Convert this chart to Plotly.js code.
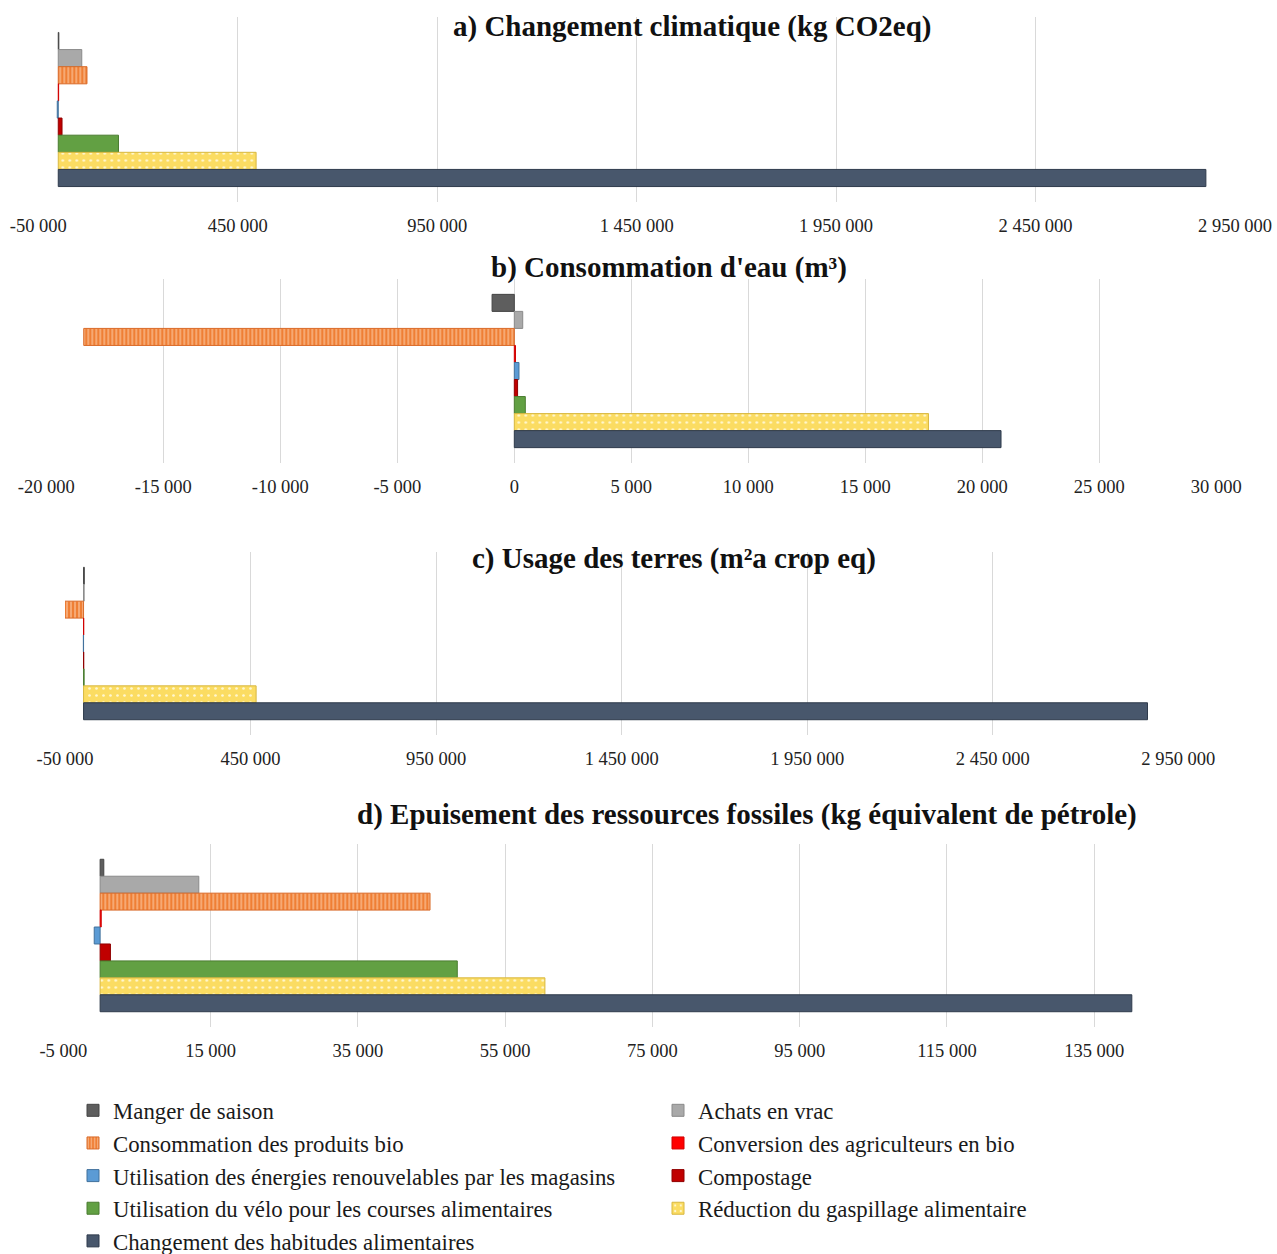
<!DOCTYPE html>
<html>
<head>
<meta charset="utf-8">
<script src="https://cdn.plot.ly/plotly-3.0.1.min.js"></script>
<style>html,body{margin:0;padding:0;background:#fff;}#chart{width:1277px;height:1254px;}</style>
</head>
<body>
<div id="chart"></div>
<script>
// ---- data ----
const seriesNames = [
  "Manger de saison",
  "Achats en vrac",
  "Consommation des produits bio",
  "Conversion des agriculteurs en bio",
  "Utilisation des énergies renouvelables par les magasins",
  "Compostage",
  "Utilisation du vélo pour les courses alimentaires",
  "Réduction du gaspillage alimentaire",
  "Changement des habitudes alimentaires"
];
const panelTitles = [
  "a) Changement climatique (kg CO2eq)",
  "b) Consommation d'eau (m³)",
  "c) Usage des terres (m²a crop eq)",
  "d) Epuisement des ressources fossiles (kg équivalent de pétrole)"
];
const climateValues = [1500, 59000, 72000, 1000, -2500, 9500, 151000, 496000, 2877000];
const waterValues   = [-950, 360, -18400, 50, 200, 140, 470, 17700, 20800];
const landValues    = [2000, 1500, -51000, 500, -500, 500, 1500, 465000, 2867000];
const fossilValues  = [500, 13400, 44800, 150, -800, 1400, 48500, 60400, 140100];

const climateTicks = [-50000, 450000, 950000, 1450000, 1950000, 2450000, 2950000];
const climateTickText = ["-50 000", "450 000", "950 000", "1 450 000", "1 950 000", "2 450 000", "2 950 000"];
const waterTicks = [-20000, -15000, -10000, -5000, 0, 5000, 10000, 15000, 20000, 25000, 30000];
const waterTickText = ["-20 000", "-15 000", "-10 000", "-5 000", "0", "5 000", "10 000", "15 000", "20 000", "25 000", "30 000"];
const landTicks = [-50000, 450000, 950000, 1450000, 1950000, 2450000, 2950000];
const landTickText = ["-50 000", "450 000", "950 000", "1 450 000", "1 950 000", "2 450 000", "2 950 000"];
const fossilTicks = [-5000, 15000, 35000, 55000, 75000, 95000, 115000, 135000];
const fossilTickText = ["-5 000", "15 000", "35 000", "55 000", "75 000", "95 000", "115 000", "135 000"];

// ---- styles ----
const colors = ["#5e5e5e", "#a9a9a9", "#f0853f", "#ff0000", "#5b9bd5", "#c00000", "#62a043", "#fbdc62", "#48576c"];
const lineColors = ["#454545", "#8a8a8a", "#d96a28", "#d00000", "#41719c", "#900000", "#4a7c30", "#d8b840", "#2f3b4c"];
const patterns = [null, null,
  {shape: "|", fgcolor: "rgba(255,225,200,0.85)", bgcolor: "#ef7f35", size: 4, solidity: 0.25, fillmode: "replace"},
  null, null, null, null,
  {shape: ".", fgcolor: "rgba(255,250,220,0.9)", bgcolor: "#fbdc62", size: 7, solidity: 0.12, fillmode: "replace"},
  null];

const panels = [
  {vals: climateValues, ticks: climateTicks, text: climateTickText, range: [-50000, 2950000],
   xd: [38.3, 1235], yd: [17, 202], title: [692, 26]},
  {vals: waterValues, ticks: waterTicks, text: waterTickText, range: [-20000, 30000],
   xd: [46.3, 1216.3], yd: [279, 463], title: [669, 268]},
  {vals: landValues, ticks: landTicks, text: landTickText, range: [-50000, 2950000],
   xd: [65, 1178.3], yd: [552, 735], title: [674, 558]},
  {vals: fossilValues, ticks: fossilTicks, text: fossilTickText, range: [-5000, 145000],
   xd: [63.3, 1167.9], yd: [844, 1027], title: [747, 814]}
];

const W = 1277, H = 1254;
const serif = "Liberation Serif, Times New Roman, serif";
const traces = [];
const layout = {
  width: W, height: H,
  margin: {l: 0, r: 0, t: 0, b: 0, autoexpand: false},
  paper_bgcolor: "#ffffff", plot_bgcolor: "rgba(0,0,0,0)",
  barmode: "group", bargap: 0.167, bargroupgap: 0,
  font: {family: serif, size: 18, color: "#222"},
  showlegend: true,
  legend: {
    orientation: "h", x: 73 / W, xanchor: "left", y: 1 - 1089 / H, yanchor: "top",
    entrywidth: 540, entrywidthmode: "pixels",
    font: {family: serif, size: 22.8, color: "#1a1a1a"},
    traceorder: "normal", itemwidth: 30, bgcolor: "rgba(0,0,0,0)"
  },
  annotations: []
};

panels.forEach((p, k) => {
  const sfx = k === 0 ? "" : String(k + 1);
  p.vals.forEach((v, i) => {
    const marker = {color: colors[i], line: {color: lineColors[i], width: 1}};
    if (patterns[i]) marker.pattern = patterns[i];
    traces.push({
      type: "bar", orientation: "h",
      x: [v], y: ["impact"],
      name: seriesNames[i], legendgroup: "s" + i, showlegend: k === 0,
      xaxis: "x" + sfx, yaxis: "y" + sfx,
      marker: marker, hoverinfo: "x+name"
    });
  });
  layout["xaxis" + sfx] = {
    domain: [p.xd[0] / W, p.xd[1] / W], anchor: "y" + sfx,
    range: p.range, tickvals: p.ticks, ticktext: p.text,
    showgrid: true, gridcolor: "#d9d9d9", gridwidth: 1,
    zeroline: false, showline: false, ticks: "", ticklabelstandoff: 10,
    tickfont: {family: serif, size: 18.5, color: "#222"}
  };
  layout["yaxis" + sfx] = {
    domain: [1 - p.yd[1] / H, 1 - p.yd[0] / H], anchor: "x" + sfx,
    type: "category", range: [0.5, -0.5],
    showticklabels: false, showgrid: false, zeroline: false, showline: false, ticks: ""
  };
  layout.annotations.push({
    text: "<b>" + panelTitles[k] + "</b>", xref: "paper", yref: "paper",
    x: p.title[0] / W, y: 1 - p.title[1] / H, xanchor: "center", yanchor: "middle",
    showarrow: false, font: {family: serif, size: 29, color: "#111"}
  });
});

Plotly.newPlot("chart", traces, layout, {displayModeBar: false, staticPlot: true});
</script>
</body>
</html>
